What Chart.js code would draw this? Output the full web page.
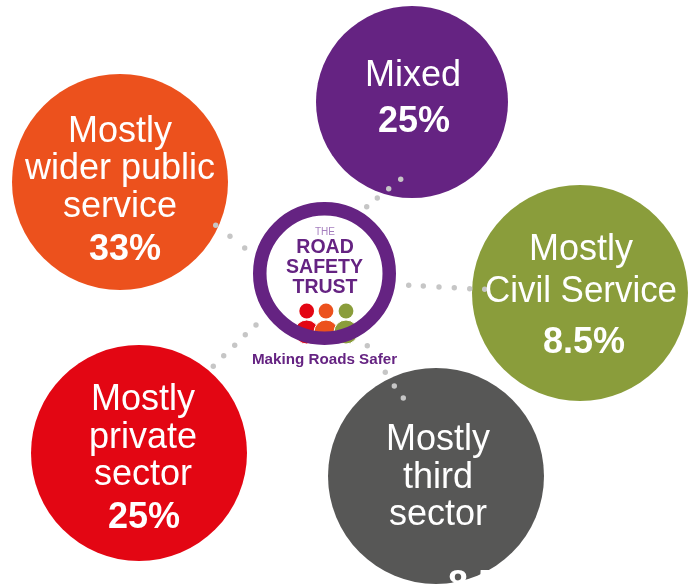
<!DOCTYPE html>
<html>
<head>
<meta charset="utf-8">
<title>Road Safety Trust</title>
<script src="https://cdn.jsdelivr.net/npm/chart.js@4"></script>
<style>
  html, body { margin: 0; padding: 0; background: #fff; overflow: hidden; }
  canvas { display: block; }
</style>
</head>
<body>
<canvas id="chart" width="696" height="584"></canvas>
<script>
// the five groups, going clockwise from the left
const categories = [
  ['Mostly', 'wider public', 'service'],
  ['Mixed'],
  ['Mostly', 'Civil Service'],
  ['Mostly', 'third', 'sector'],
  ['Mostly', 'private', 'sector']
];
const shares = [33, 25, 8.5, 8.5, 25];
const bubbleX = [120, 412, 580, 436, 139];
const bubbleY = [182, 102, 293, 476, 453];
const bubbleR = [108, 96, 108, 108, 108];
const bubbleColors = ['#ec511d', '#652382', '#8a9d3b', '#575756', '#e30613'];

// dotted connectors
const dotX = [400.7, 388.7, 377.3, 366.7, 215.7, 230, 244.7, 408.7, 423.3, 439, 454.3, 469.7, 484.7,
  256, 245.3, 234.7, 223.7, 213.3, 367.3, 385.3, 394.3, 403.3];
const dotY = [179.3, 188.7, 198, 206.7, 225.3, 236.3, 248, 285.3, 286, 287, 287.7, 288.7, 289.3,
  325, 334.7, 345.3, 355.7, 366.3, 345.7, 372.3, 386, 398];

// logo people: red, orange, olive
const peopleX = [306.7, 326, 346];
const headY = [311, 311, 311];
const bodyY = [332, 332, 332];
const peopleColors = ['#e30613', '#ec511d', '#8a9d3b'];

const toPoints = (xs, ys, rs) => xs.map((x, i) => ({ x, y: ys[i], r: Array.isArray(rs) ? rs[i] : rs }));

// label baselines per bubble, hand fitted to the picture
const labelLayout = [
  { cx: 120, lines: [142, 179, 217], pctX: 125, pctY: 260 },
  { cx: 413, lines: [86], pctX: 414, pctY: 132 },
  { cx: 581, lines: [260, 302], pctX: 584, pctY: 353 },
  { cx: 438, lines: [450, 488, 525], pctX: 489, pctY: 596 },
  { cx: 143, lines: [410, 448, 485], pctX: 144, pctY: 528 }
];

const textPlugin = {
  id: 'textPlugin',
  afterDatasetsDraw(chart) {
    const { ctx, scales } = chart;
    ctx.save();
    ctx.textAlign = 'center';
    ctx.textBaseline = 'alphabetic';
    ctx.fillStyle = '#fff';
    categories.forEach((lines, i) => {
      const l = labelLayout[i];
      ctx.font = '36px "Liberation Sans"';
      lines.forEach((t, j) => ctx.fillText(t, scales.x.getPixelForValue(l.cx), scales.y.getPixelForValue(l.lines[j]), 192));
      ctx.font = 'bold 36px "Liberation Sans"';
      ctx.fillText(shares[i] + '%', scales.x.getPixelForValue(l.pctX), scales.y.getPixelForValue(l.pctY));
    });

    // logo wording
    ctx.fillStyle = '#a67fbf';
    ctx.font = '10px "Liberation Sans"';
    ctx.fillText('THE', 325, 235);
    ctx.fillStyle = '#652382';
    ctx.font = 'bold 19.5px "Liberation Sans"';
    ctx.fillText('ROAD', 325, 253);
    ctx.fillText('SAFETY', 324.5, 273);
    ctx.fillText('TRUST', 325, 293);
    ctx.font = 'bold 15.2px "Liberation Sans"';
    ctx.fillText('Making Roads Safer', 324.5, 364);
    ctx.restore();
  }
};

new Chart(document.getElementById('chart'), {
  type: 'bubble',
  data: {
    // first dataset ends up on top
    datasets: [
      {
        label: 'connectors',
        data: toPoints(dotX, dotY, 2.7),
        backgroundColor: '#c6c6c6',
        borderWidth: 0
      },
      {
        label: 'logo ring',
        data: toPoints([324.5], [273.5], 64.75),
        backgroundColor: 'transparent',
        borderColor: '#652382',
        borderWidth: 13.5
      },
      {
        label: 'heads',
        data: toPoints(peopleX, headY, 7.4),
        backgroundColor: peopleColors,
        borderWidth: 0
      },
      {
        label: 'bodies',
        data: toPoints(peopleX, bodyY, 12),
        backgroundColor: peopleColors,
        borderColor: '#fff',
        borderWidth: 1
      },
      {
        label: 'groups',
        data: toPoints(bubbleX, bubbleY, bubbleR),
        backgroundColor: bubbleColors,
        borderWidth: 0
      }
    ]
  },
  options: {
    responsive: false,
    animation: false,
    events: [],
    layout: { autoPadding: false, padding: 0 },
    scales: {
      x: { type: 'linear', min: 0, max: 696, display: false },
      y: { type: 'linear', min: 0, max: 584, reverse: true, display: false }
    },
    plugins: {
      legend: { display: false },
      tooltip: { enabled: false }
    }
  },
  plugins: [textPlugin]
});
</script>
</body>
</html>
